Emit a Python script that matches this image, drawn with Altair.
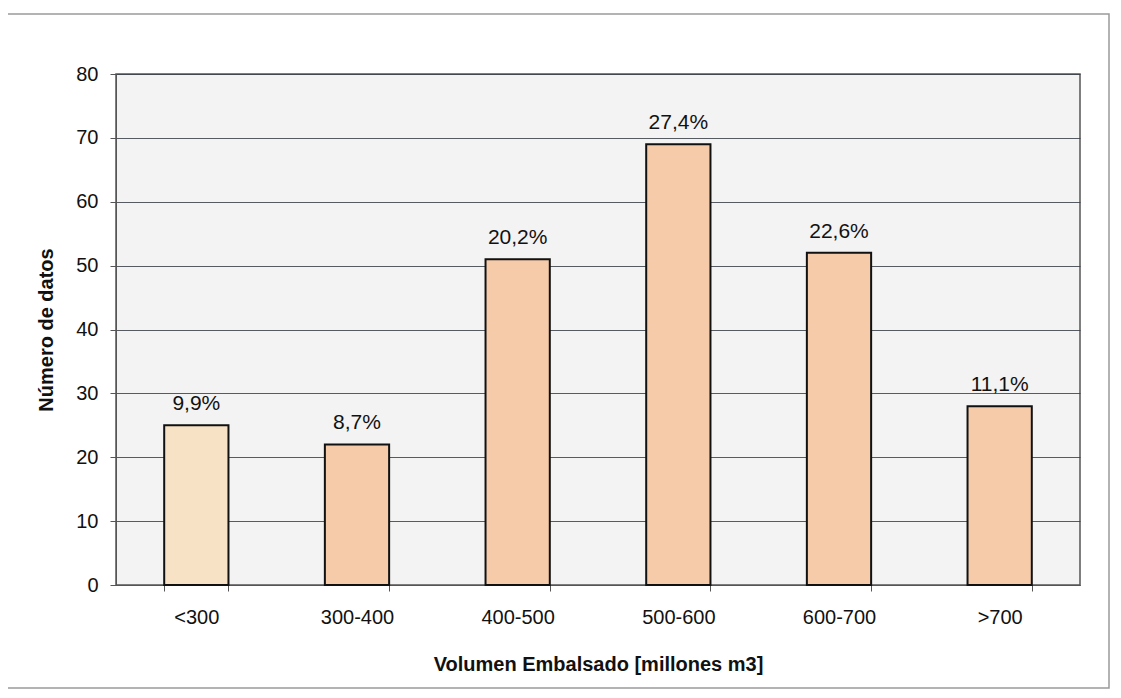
import altair as alt
import pandas as pd

categories = ["<300", "300-400", "400-500", "500-600", "600-700", ">700"]
counts = [25, 22, 51, 69, 52, 28]
pct_labels = ["9,9%", "8,7%", "20,2%", "27,4%", "22,6%", "11,1%"]
bar_colors = ["#F8E2C6", "#F5CBAA", "#F5CBAA", "#F5CBAA", "#F5CBAA", "#F5CBAA"]

df = pd.DataFrame({"cat": categories, "n": counts, "lab": pct_labels, "col": bar_colors})

FONT = "Liberation Sans"

x = alt.X("cat:N", sort=categories,
          scale=alt.Scale(paddingInner=0.6, paddingOuter=0.3),
          axis=alt.Axis(title="Volumen Embalsado [millones m3]", labelAngle=0,
                        tickBand="extent", ticks=True, tickSize=6, tickColor="#555",
                        domainColor="#555", labelFontSize=20, labelPadding=16,
                        titleFontSize=20, titleFontWeight="bold", titlePadding=27,
                        labelColor="#111", titleColor="#111", grid=False))
y = alt.Y("n:Q", scale=alt.Scale(domain=[0, 80], nice=False),
          axis=alt.Axis(title="Número de datos", values=list(range(0, 81, 10)),
                        tickSize=6, tickColor="#555", domainColor="#555",
                        labelFontSize=20, labelPadding=12, labelColor="#111",
                        titleFontSize=20, titleFontWeight="bold", titlePadding=19,
                        titleColor="#111", grid=True, gridColor="#3a3f48",
                        gridWidth=1, gridOpacity=0.85))

base = alt.Chart(df)

bars = base.mark_bar(stroke="#111", strokeWidth=2).encode(
    x=x, y=y, color=alt.Color("col:N", scale=None)
)
labels = base.mark_text(dy=-21, fontSize=21, font=FONT, color="#111", baseline="middle").encode(
    x=alt.X("cat:N", sort=categories), y="n:Q", text="lab:N"
)

frame = alt.Chart(pd.DataFrame({"a": [0]})).mark_rect(
    fill=None, stroke="#9a9a9a", strokeWidth=1.5
).encode(x=alt.value(-109), x2=alt.value(993), y=alt.value(-60), y2=alt.value(614))

chart = alt.layer(frame, bars, labels).properties(
    width=964, height=511,
    autosize=alt.AutoSizeParams(type="none"),
    padding={"left": 108, "top": 66, "right": 30, "bottom": 108},
    background="white",
).configure(font=FONT).configure_view(
    fill="#f3f3f3", stroke="#555", strokeWidth=1.5
)

chart.save("out.html", embed_options={"renderer": "svg", "actions": False})
